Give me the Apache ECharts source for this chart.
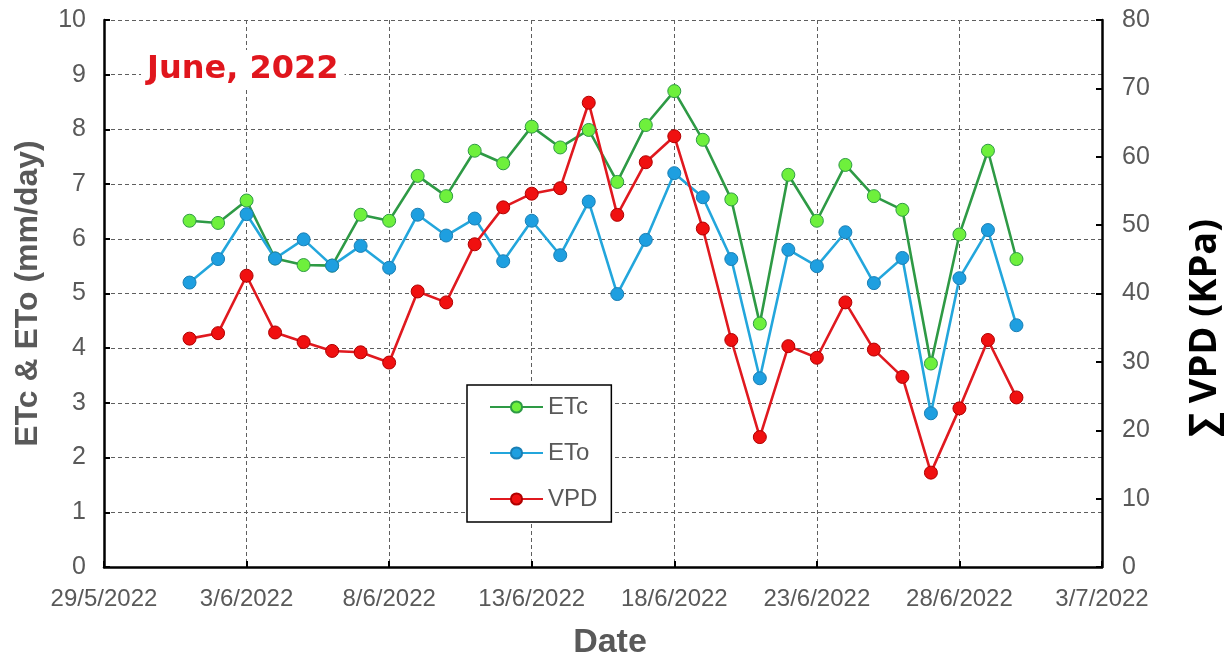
<!DOCTYPE html>
<html>
<head>
<meta charset="utf-8">
<script src="https://cdn.jsdelivr.net/npm/echarts@6/dist/echarts.min.js"></script>
<style>
html,body{margin:0;padding:0;background:#fff;}
#chart{width:1224px;height:660px;}
</style>
</head>
<body>
<div id="chart"></div>
<script>
const dates = ['1/6/2022','2/6/2022','3/6/2022','4/6/2022','5/6/2022','6/6/2022','7/6/2022','8/6/2022','9/6/2022','10/6/2022',
  '11/6/2022','12/6/2022','13/6/2022','14/6/2022','15/6/2022','16/6/2022','17/6/2022','18/6/2022','19/6/2022','20/6/2022',
  '21/6/2022','22/6/2022','23/6/2022','24/6/2022','25/6/2022','26/6/2022','27/6/2022','28/6/2022','29/6/2022','30/6/2022'];
const etc = [6.33,6.29,6.70,5.64,5.52,5.51,6.44,6.33,7.15,6.78,
  7.61,7.38,8.05,7.67,7.99,7.04,8.08,8.70,7.81,6.72,
  4.45,7.17,6.33,7.35,6.78,6.53,3.72,6.08,7.61,5.63];
const eto = [5.20,5.63,6.45,5.64,5.99,5.51,5.87,5.47,6.44,6.06,
  6.37,5.59,6.33,5.70,6.68,4.99,5.98,7.20,6.76,5.63,
  3.45,5.80,5.50,6.12,5.19,5.65,2.81,5.28,6.16,4.42];
const vpd = [33.4,34.2,42.6,34.3,32.9,31.6,31.4,29.9,40.3,38.7,
  47.2,52.6,54.6,55.4,67.9,51.5,59.2,63.0,49.5,33.2,
  19.0,32.3,30.6,38.7,31.8,27.8,13.8,23.2,33.2,24.8];
const xTickLabels = ['29/5/2022','3/6/2022','8/6/2022','13/6/2022','18/6/2022','23/6/2022','28/6/2022','3/7/2022'];
const leftTicks = [0,1,2,3,4,5,6,7,8,9,10];
const rightTicks = [0,10,20,30,40,50,60,70,80];

const origin = Date.UTC(2022,4,29);
function dayOffset(s){ const p = s.split('/').map(Number); return (Date.UTC(p[2],p[1]-1,p[0]) - origin)/86400000; }
const xs = dates.map(dayOffset);
const pair = arr => arr.map((v,i)=>[xs[i], v]);

const gray = '#595959';
const gridLine = {show:true, lineStyle:{color:'#5e5e5e', width:1, type:[4,3]}};
const axisLine = {show:true, lineStyle:{color:'#000', width:2.5}};

const chart = echarts.init(document.getElementById('chart'));
chart.setOption({
  animation:false,
  backgroundColor:'#fff',
  grid:{left:104, right:122, top:20, bottom:93, containLabel:false, outerBoundsMode:'none'},
  title:{
    text:'June, 2022', left:141, top:50, padding:[4,6],
    backgroundColor:'#fff',
    textStyle:{color:'#e0161d', fontSize:32, fontWeight:'bold', fontFamily:'DejaVu Sans'}
  },
  graphic:[{
    type:'text', x:1205, y:328, rotation:Math.PI/2,
    style:{text:'∑ VPD (KPa)', fill:'#000', font:'bold 38px "Open Sans", "DejaVu Sans"', align:'center', verticalAlign:'middle'}
  }],
  legend:{
    orient:'vertical', left:467, top:385,
    padding:[10,14,11,22], itemGap:22, itemWidth:53, itemHeight:14,
    borderColor:'#000', borderWidth:1.5, backgroundColor:'#fff',
    textStyle:{color:gray, fontSize:24, fontFamily:'Liberation Sans, Arial'},
    data:['ETc','ETo','VPD']
  },
  xAxis:{
    type:'value', min:0, max:35, interval:5,
    name:'Date', nameLocation:'middle', nameGap:59,
    nameTextStyle:{color:gray, fontSize:34, fontWeight:'bold', fontFamily:'Liberation Sans, Arial', padding:[0,0,0,14]},
    axisLine:axisLine,
    axisTick:{show:true, inside:true, length:6, lineStyle:{color:'#000', width:2}},
    axisLabel:{color:gray, fontSize:24, margin:20, fontFamily:'Liberation Sans, Arial',
      formatter:v => xTickLabels[Math.round(v/5)]},
    splitLine:gridLine
  },
  yAxis:[{
    type:'value', min:leftTicks[0], max:leftTicks[leftTicks.length-1], interval:1, position:'left',
    name:'ETc & ETo (mm/day)', nameLocation:'middle', nameGap:60, nameRotate:90,
    nameTextStyle:{color:gray, fontSize:32, fontWeight:'bold', fontFamily:'Liberation Sans, Arial'},
    axisLine:axisLine,
    axisTick:{show:true, inside:true, length:6, lineStyle:{color:'#000', width:2}},
    axisLabel:{color:gray, fontSize:25, margin:18, fontFamily:'Liberation Sans, Arial'},
    splitLine:gridLine
  },{
    type:'value', min:rightTicks[0], max:rightTicks[rightTicks.length-1], interval:10, position:'right',
    axisLine:axisLine,
    axisTick:{show:true, inside:true, length:6, lineStyle:{color:'#000', width:2}},
    axisLabel:{color:gray, fontSize:25, margin:20, fontFamily:'Liberation Sans, Arial'},
    splitLine:{show:false}
  }],
  series:[{
    name:'ETc', type:'line', yAxisIndex:0, data:pair(etc),
    symbol:'circle', symbolSize:13,
    lineStyle:{color:'#2e9a45', width:2.6},
    itemStyle:{color:'#6ef03c', borderColor:'#2e9a45', borderWidth:1}
  },{
    name:'ETo', type:'line', yAxisIndex:0, data:pair(eto),
    symbol:'circle', symbolSize:13,
    lineStyle:{color:'#23a6dc', width:2.6},
    itemStyle:{color:'#1e9fe0', borderColor:'#1a7fb5', borderWidth:1}
  },{
    name:'VPD', type:'line', yAxisIndex:1, data:pair(vpd),
    symbol:'circle', symbolSize:13,
    lineStyle:{color:'#e0191f', width:2.6},
    itemStyle:{color:'#f01010', borderColor:'#b00000', borderWidth:1}
  }]
});
</script>
</body>
</html>
